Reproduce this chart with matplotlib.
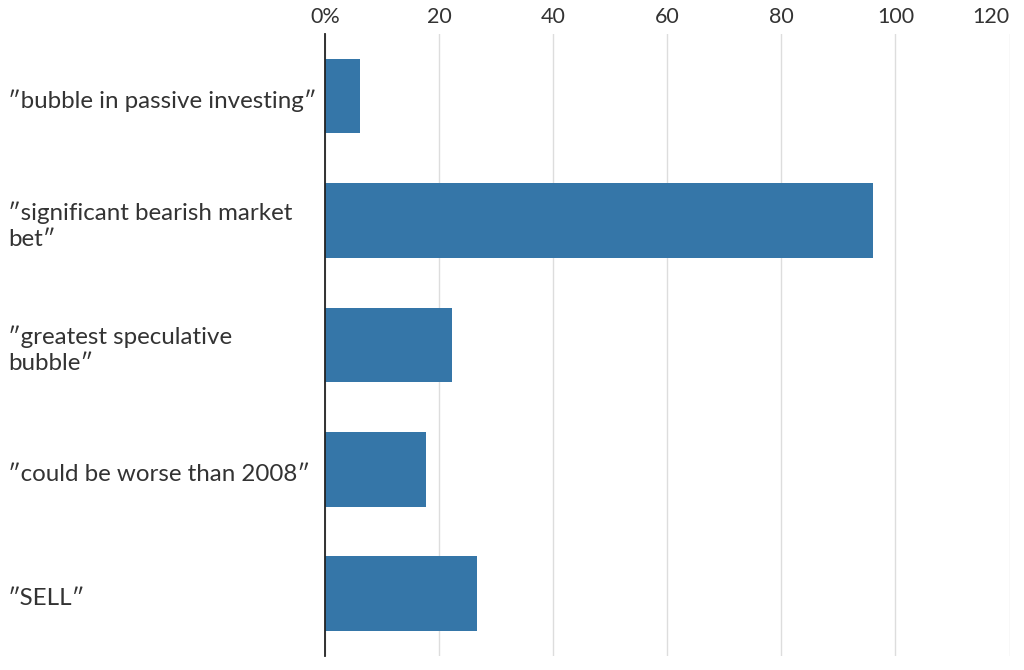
import matplotlib.pyplot as plt
from matplotlib.transforms import blended_transform_factory

plt.rcParams["font.family"] = ["Lato", "DejaVu Sans"]

phrases = [
    "\u2033bubble in passive investing\u2033",
    "\u2033significant bearish market\nbet\u2033",
    "\u2033greatest speculative\nbubble\u2033",
    "\u2033could be worse than 2008\u2033",
    "\u2033SELL\u2033",
]
shares = [6.2, 96.0, 22.3, 17.7, 26.6]
ticks = [0, 20, 40, 60, 80, 100, 120]
tick_labels = ["0%", "20", "40", "60", "80", "100", "120"]

bar_color = "#3576a8"
text_color = "#333333"

fig = plt.figure(figsize=(10.24, 6.7), dpi=100)
ax = fig.add_axes([0.3174, 0.0209, 0.6685, 0.9284])

pos = list(range(len(phrases)))
ax.barh(pos, shares, height=0.6, color=bar_color, zorder=3)

ax.set_xlim(0, 120)
ax.set_ylim(len(phrases) - 0.5, -0.5)
ax.set_xticks(ticks)
ax.set_xticklabels(tick_labels, fontsize=15.5, color=text_color)
ax.xaxis.tick_top()
ax.tick_params(axis="x", length=0, pad=5)
# last label pulled inside the figure, like the original
ax.xaxis.get_major_ticks()[-1].label2.set_horizontalalignment("right")
ax.set_yticks([])
ax.grid(axis="x", color="#dddddd", linewidth=1, zorder=0)

for side in ["top", "right", "bottom"]:
    ax.spines[side].set_visible(False)
ax.spines["left"].set_color("#222222")
ax.spines["left"].set_linewidth(1.3)
ax.spines["left"].set_zorder(4)

trans = blended_transform_factory(fig.transFigure, ax.transData)
for p, label in zip(pos, phrases):
    ax.text(8 / 1024, p + 0.04, label, transform=trans, ha="left", va="center",
            fontsize=17.4, color=text_color, linespacing=1.3)

fig.savefig("out.png", dpi=100)
